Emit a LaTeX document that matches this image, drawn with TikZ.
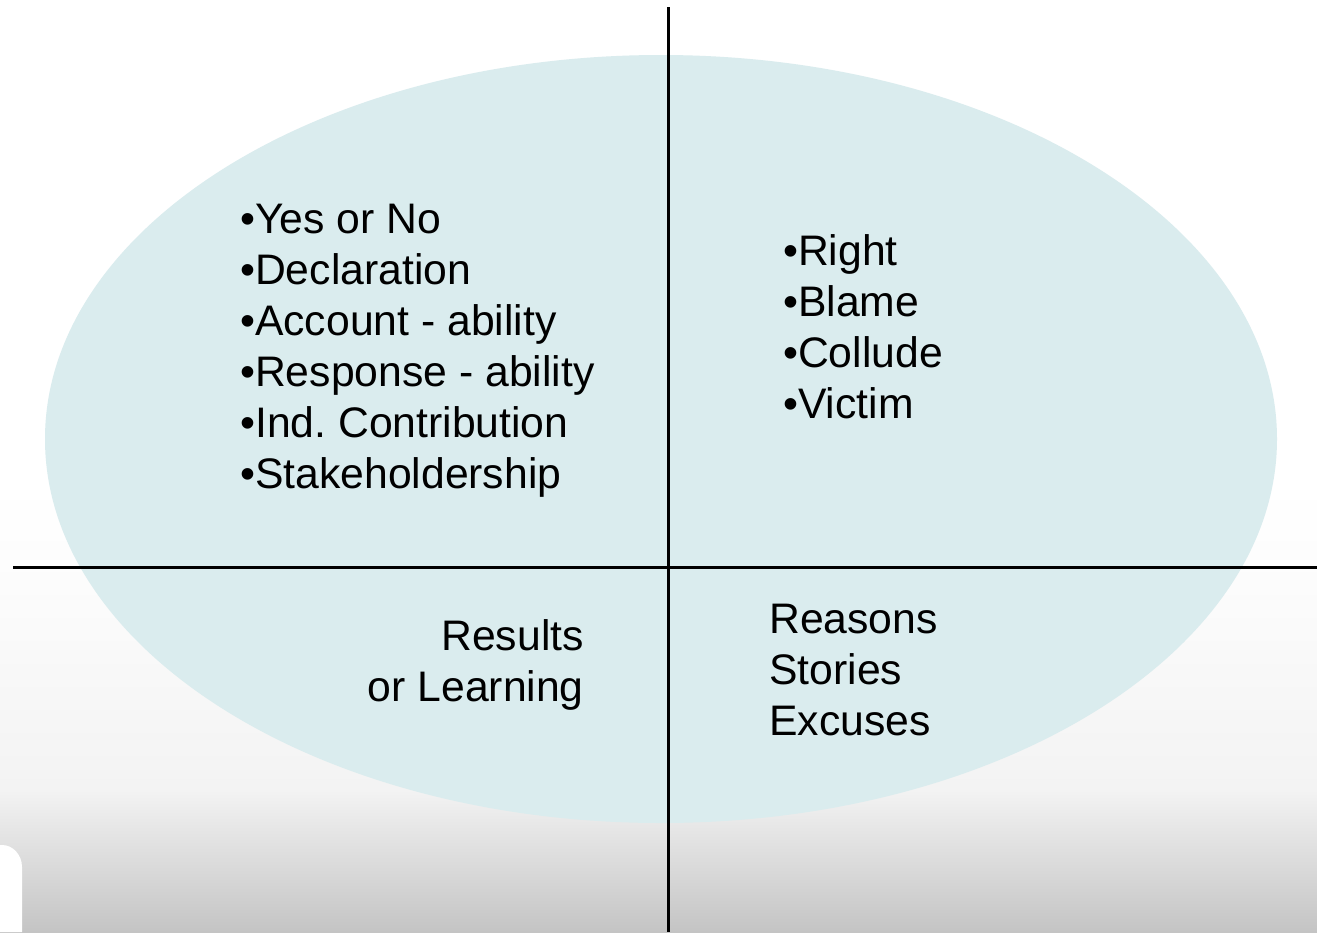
\documentclass[tikz,border=0pt]{standalone}
\usepackage{fontspec}
\setmainfont{Liberation Sans}
\definecolor{ovalfill}{HTML}{DAECEE}
\definecolor{bgA}{HTML}{FDFDFD}
\definecolor{bgB}{HTML}{F3F3F3}
\definecolor{bgC}{HTML}{C4C4C4}
\tikzset{
  lbl/.style={font=\fontsize{42.7}{51}\selectfont, inner sep=0pt, text=black},
  axis/.style={line width=3pt, black}
}
\begin{document}
\frenchspacing
\begin{tikzpicture}[x=1pt,y=-1pt]
\useasboundingbox (0,0) rectangle (1317,932);
% background
\fill[white] (0,0) rectangle (1317,932);
\shade[top color=white, bottom color=bgA] (0,480) rectangle (1317,560);
\shade[top color=bgA, bottom color=bgB] (0,560) rectangle (1317,790);
\shade[top color=bgB, bottom color=bgC] (0,790) rectangle (1317,932);
\fill[white] (0,845) -- (2,845) arc[start angle=90, end angle=0, x radius=20, y radius=-22] -- (22,932) -- (0,932) -- cycle;
% oval
\fill[ovalfill] (661,439) ellipse[x radius=616, y radius=384];
% axes
\coordinate (vt) at (668.5,7);
\coordinate (vb) at (668.5,932);
\coordinate (hl) at (13,567);
\coordinate (hr) at (1317,567);
\draw[axis] (vt) -- (vb);
\draw[axis] (hl) -- (hr);
% top-left list
\node[lbl, anchor=base west] (a1) at (240,233) {•Yes or No};
\node[lbl, anchor=base west] (a2) at (240,284) {•Declaration};
\node[lbl, anchor=base west] (a3) at (240,335) {•Account - ability};
\node[lbl, anchor=base west] (a4) at (240,386) {•Response - ability};
\node[lbl, anchor=base west] (a5) at (240,437) {•Ind.\ Contribution};
\node[lbl, anchor=base west] (a6) at (240,488) {•Stakeholdership};
% top-right list
\node[lbl, anchor=base west] (b1) at (783,265) {•Right};
\node[lbl, anchor=base west] (b2) at (783,316) {•Blame};
\node[lbl, anchor=base west] (b3) at (783,367) {•Collude};
\node[lbl, anchor=base west] (b4) at (783,418) {•Victim};
% bottom-left
\node[lbl, anchor=base east] (c1) at (584,650) {Results};
\node[lbl, anchor=base east] (c2) at (584,701) {or Learning};
% bottom-right
\node[lbl, anchor=base west] (d1) at (769,633) {Reasons};
\node[lbl, anchor=base west] (d2) at (769,684) {Stories};
\node[lbl, anchor=base west] (d3) at (769,735) {Excuses};
\end{tikzpicture}
\end{document}
